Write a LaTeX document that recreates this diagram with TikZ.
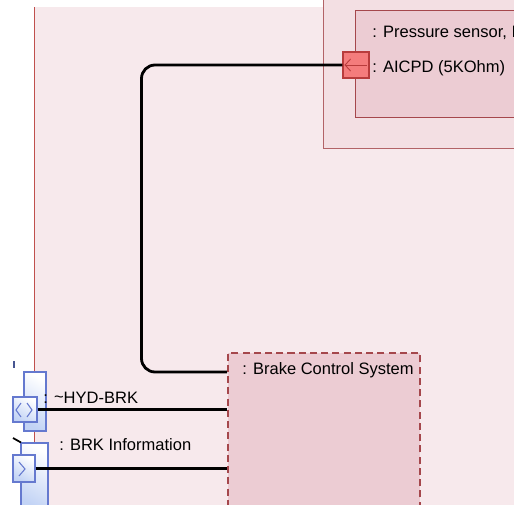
\documentclass[tikz,border=0pt]{standalone}
\usepackage{fontspec}
\setmainfont{Liberation Sans}
\usetikzlibrary{arrows.meta,calc}

\definecolor{diagbg}{HTML}{F7E9EC}
\definecolor{framered}{HTML}{C0504D}
\definecolor{outerfill}{HTML}{F3DFE3}
\definecolor{partfill}{HTML}{ECCCD3}
\definecolor{partline}{HTML}{A5474C}
\definecolor{portfill}{HTML}{F47C7C}
\definecolor{portline}{HTML}{B83C3C}
\definecolor{flowfill}{HTML}{C2D3F5}
\definecolor{flowline}{HTML}{6579CF}

\tikzset{
  lbl/.style={anchor=base west,inner sep=0pt,font=\fontsize{9.4}{11}\selectfont},
  wire/.style={draw=black,line width=1.6pt},
  blk/.style={draw=partline,fill=partfill,line width=0.7pt,anchor=north west,inner sep=0pt},
}

\begin{document}
\begin{tikzpicture}[x=0.02cm,y=-0.02cm]

        \useasboundingbox (0,0) rectangle (514,504);
        \clip (0,0) rectangle (514,504);
        \fill[white] (0,0) rectangle (514,504);

        % diagram frame
        \fill[diagbg] (34,7) rectangle (520,510);
        \draw[framered,line width=0.9pt] (34.5,7) -- (34.5,510);

        \begin{scope}[every node/.style={blk}]
          \node (sensorbox) at (323,-5) [draw=partline!85,fill=outerfill,line width=0.6pt,
                minimum width=6cm,minimum height=3.06cm] {};
          \node (sensor) at (355,10) [minimum width=4.1cm,minimum height=2.14cm] {};
          \node (bcs) at (227,352) [dashed,dash pattern=on 4pt off 2.4pt,line width=1pt,
                minimum width=3.84cm,minimum height=4cm] {};
        \end{scope}

        % flow property parts
        \begin{scope}[every node/.style={draw=flowline,line width=0.6pt,inner sep=0pt,
                      shading=axis,top color=white,bottom color=flowfill,shading angle=-30}]
          \node (hydpart) at (35,401.5) [minimum width=0.44cm,minimum height=1.18cm] {};
          \node (brkpart) at (34.5,476.5) [minimum width=0.54cm,minimum height=1.34cm] {};
          \node (hydport) at (25,409.5) [minimum width=0.48cm,minimum height=0.5cm] {};
          \node (brkport) at (24,468.5) [minimum width=0.44cm,minimum height=0.54cm] {};
        \end{scope}

        \node (aicpd) at (356,65) [draw=portline,fill=portfill,line width=0.6pt,
              inner sep=0pt,minimum size=0.52cm] {};

        % port glyphs
        \draw[portline,line width=0.5pt,-{Straight Barb[length=1.1mm,width=2.4mm]}]
          ($(aicpd.east)+(-3,0)$) -- ($(aicpd.west)+(2,0)$);
        \draw[flowline,line width=0.6pt] (21,403) -- (16,410) -- (21,417)
                                          (27,403) -- (32,410) -- (27,417);
        \draw[flowline,line width=0.6pt] (19,462) -- (25,469) -- (19,476);

        % loose ends from the left
        \draw[flowline!70!black,line width=1pt] (14,361) -- (14,368);
        \draw[black,line width=1pt] (13,438) -- (21,442.5);

        % connectors
        \coordinate (bcsin) at (bcs.north west |- 0,372);
        \draw[wire,rounded corners=0.27cm] (aicpd.west) -| ($(bcsin)+(-85.5,0)$) -- (bcsin);
        \draw[wire] (hydport.east) -- (hydport.east -| bcs.west);
        \draw[wire] (brkport.east) -- (brkport.east -| bcs.west);

        \begin{scope}[every node/.style={lbl}]
          \node (sensorlbl) at (372,37) {: Pressure sensor, I};
          \node (aicpdlbl)  at (372,72) {: AICPD (5KOhm)};
          \node (bcslbl)    at (242,374) {: Brake Control System};
          \node (hydlbl)    at (43,403) {: \raisebox{0.1ex}{\char`\~}HYD-BRK};
          \node (brklbl)    at (59,450) {: BRK Information};
        \end{scope}

      \end{tikzpicture}
\end{document}
